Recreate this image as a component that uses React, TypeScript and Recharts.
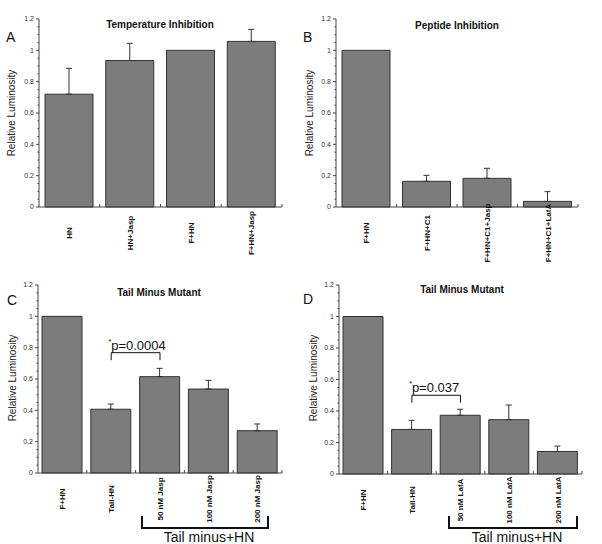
import React from 'react';
import { BarChart, Bar, XAxis, YAxis, ErrorBar, ReferenceLine } from 'recharts';

const FONT = 'Liberation Sans, Arial, Helvetica, sans-serif';

// A - Temperature Inhibition
const TEMP_CATS = ['HN', 'HN+Jasp', 'F+HN', 'F+HN+Jasp'];
const TEMP_VALUES = [0.72, 0.935, 1.0, 1.057];
const TEMP_ERR = [0.165, 0.11, 0, 0.077];

// B - Peptide Inhibition
const PEP_CATS = ['F+HN', 'F+HN+C1', 'F+HN+C1+Jasp', 'F+HN+C1+LatA'];
const PEP_VALUES = [1.0, 0.164, 0.183, 0.036];
const PEP_ERR = [0, 0.038, 0.064, 0.062];

// C - Tail minus mutant, jasplakinolide
const JASP_CATS = ['F+HN', 'Tail-HN', '50 nM Jasp', '100 nM Jasp', '200 nM Jasp'];
const JASP_VALUES = [1.0, 0.407, 0.615, 0.536, 0.27];
const JASP_ERR = [0, 0.033, 0.053, 0.055, 0.043];

// D - Tail minus mutant, latrunculin A
const LATA_CATS = ['F+HN', 'Tail-HN', '50 nM LatA', '100 nM LatA', '200 nM LatA'];
const LATA_VALUES = [1.0, 0.283, 0.373, 0.345, 0.143];
const LATA_ERR = [0, 0.058, 0.038, 0.093, 0.034];

// major ticks every 0.2, minor every 0.05
const Y_TICKS = [
  0, 0.05, 0.1, 0.15, 0.2, 0.25, 0.3, 0.35, 0.4, 0.45, 0.5, 0.55, 0.6,
  0.65, 0.7, 0.75, 0.8, 0.85, 0.9, 0.95, 1, 1.05, 1.1, 1.15, 1.2,
];

const YTick = ({ x, y, payload }: any) => {
  const v = payload.value;
  const major = Math.abs(v * 5 - Math.round(v * 5)) < 1e-6;
  return (
    <g>
      <line x1={x} x2={x - (major ? 3 : 1.5)} y1={y} y2={y} stroke="#444" />
      {major && (
        <text x={x - 5} y={y} dy="0.35em" textAnchor="end" fontSize={7} fill="#333" fontFamily={FONT}>
          {String(Math.round(v * 10) / 10)}
        </text>
      )}
    </g>
  );
};

const XTick = ({ x, y, payload, band }: any) => (
  <g>
    <line x1={x + band / 2} x2={x + band / 2} y1={y} y2={y - 3} stroke="#444" />
    <text
      transform={`translate(${x},${y + 26}) rotate(-90)`}
      textAnchor="middle"
      dy="0.35em"
      fontSize={8}
      fontWeight="bold"
      fill="#111"
      fontFamily={FONT}
    >
      {payload.value}
    </text>
  </g>
);

const SigLabel = ({ viewBox, text }: any) => (
  <g fontFamily={FONT} fill="#111">
    <text x={viewBox.x - 3} y={viewBox.y - 9} fontSize={8}>*</text>
    <text x={viewBox.x} y={viewBox.y - 3} fontSize={13}>{text}</text>
  </g>
);

function Panel(props: any) {
  const { cats, values, errs, letter, title, box, margin, yw, xh, barSize, sig, group, pos } = props;
  // one-sided (upper) error bars; none drawn where the error is zero
  const data = cats.map((c: string, i: number) => ({
    name: c,
    value: values[i],
    err: errs[i] ? [0, errs[i]] : null,
  }));
  const band = (box.w - margin.left - margin.right - yw) / cats.length;

  return (
    <div style={{ position: 'absolute', left: box.x, top: box.y, width: box.w, height: box.h }}>
      <BarChart width={box.w} height={box.h} data={data} margin={margin}>
        <YAxis
          domain={[0, 1.2]}
          ticks={Y_TICKS}
          interval={0}
          width={yw}
          tickSize={0}
          tickMargin={0}
          tickLine={false}
          axisLine={{ stroke: '#444' }}
          tick={<YTick />}
        />
        <XAxis
          dataKey="name"
          interval={0}
          height={xh}
          tickSize={0}
          tickMargin={0}
          tickLine={false}
          axisLine={{ stroke: '#444' }}
          tick={<XTick band={band} />}
        />
        <Bar dataKey="value" fill="#7c7c7c" stroke="#333" strokeWidth={1} barSize={barSize} isAnimationActive={false}>
          <ErrorBar dataKey="err" width={3} stroke="#333" strokeWidth={1} direction="y" />
        </Bar>
        {sig && (
          <ReferenceLine
            segment={[{ x: sig.from, y: sig.top }, { x: sig.to, y: sig.top }]}
            stroke="#111"
            label={<SigLabel text={sig.text} />}
          />
        )}
        {sig && (
          <ReferenceLine segment={[{ x: sig.from, y: sig.top }, { x: sig.from, y: sig.bottom }]} stroke="#111" />
        )}
        {sig && (
          <ReferenceLine segment={[{ x: sig.to, y: sig.top }, { x: sig.to, y: sig.bottom }]} stroke="#111" />
        )}
      </BarChart>
      <svg
        width={box.w}
        height={box.h}
        style={{ position: 'absolute', left: 0, top: 0, pointerEvents: 'none', overflow: 'visible' }}
        fontFamily={FONT}
      >
        <text x={pos.letter[0]} y={pos.letter[1]} fontSize={14} fill="#111">{letter}</text>
        <text x={pos.title[0]} y={pos.title[1]} fontSize={10} fontWeight="bold" textAnchor="middle" fill="#111">
          {title}
        </text>
        <text
          transform={`translate(${pos.ylabel[0]},${pos.ylabel[1]}) rotate(-90)`}
          textAnchor="middle"
          dy="0.35em"
          fontSize={10}
          fill="#222"
        >
          Relative Luminosity
        </text>
        {group && (
          <g>
            <path
              d={`M${group.l},${group.t} V${group.b} H${group.r} V${group.t}`}
              fill="none"
              stroke="#111"
              strokeWidth={2}
            />
            <text x={(group.l + group.r) / 2 + 4} y={group.b + 14} fontSize={14} textAnchor="middle" fill="#111">
              Tail minus+HN
            </text>
          </g>
        )}
      </svg>
    </div>
  );
}

export default function App() {
  return (
    <div style={{ position: 'absolute', left: 0, top: 0, width: 602, height: 544, background: '#fff' }}>
      <Panel
        cats={TEMP_CATS}
        values={TEMP_VALUES}
        errs={TEMP_ERR}
        letter="A"
        title="Temperature Inhibition"
        box={{ x: 0, y: 0, w: 300, h: 270 }}
        margin={{ top: 19, right: 18, left: 0, bottom: 0 }}
        yw={39}
        xh={63}
        barSize={48}
        pos={{ letter: [6, 42], title: [160, 28], ylabel: [11, 113] }}
      />
      <Panel
        cats={PEP_CATS}
        values={PEP_VALUES}
        errs={PEP_ERR}
        letter="B"
        title="Peptide Inhibition"
        box={{ x: 300, y: 0, w: 302, h: 270 }}
        margin={{ top: 19, right: 24, left: 0, bottom: 0 }}
        yw={36}
        xh={63}
        barSize={48}
        pos={{ letter: [3, 42], title: [157, 29], ylabel: [9, 113] }}
      />
      <Panel
        cats={JASP_CATS}
        values={JASP_VALUES}
        errs={JASP_ERR}
        letter="C"
        title="Tail Minus Mutant"
        box={{ x: 0, y: 270, w: 300, h: 274 }}
        margin={{ top: 15, right: 18, left: 0, bottom: 0 }}
        yw={38}
        xh={71}
        barSize={40}
        sig={{ from: 'Tail-HN', to: '50 nM Jasp', top: 0.768, bottom: 0.72, text: 'p=0.0004' }}
        group={{ l: 142, r: 268, t: 246, b: 258 }}
        pos={{ letter: [7, 35], title: [159, 26], ylabel: [12, 108] }}
      />
      <Panel
        cats={LATA_CATS}
        values={LATA_VALUES}
        errs={LATA_ERR}
        letter="D"
        title="Tail Minus Mutant"
        box={{ x: 300, y: 270, w: 302, h: 274 }}
        margin={{ top: 15, right: 20, left: 0, bottom: 0 }}
        yw={39}
        xh={70}
        barSize={40}
        sig={{ from: 'Tail-HN', to: '50 nM LatA', top: 0.5, bottom: 0.453, text: 'p=0.037' }}
        group={{ l: 149, r: 277, t: 246, b: 258 }}
        pos={{ letter: [3, 34], title: [162, 23], ylabel: [13, 108] }}
      />
    </div>
  );
}
